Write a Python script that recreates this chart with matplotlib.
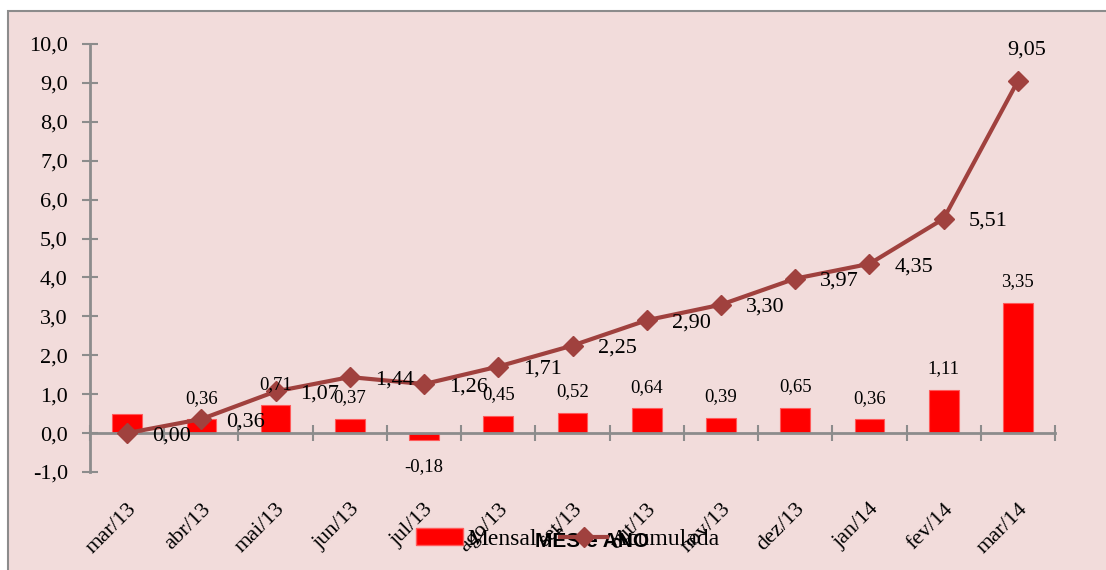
import numpy as np
import matplotlib.pyplot as plt
import matplotlib.patches as mpatches
from matplotlib.lines import Line2D

meses = ['mar/13', 'abr/13', 'mai/13', 'jun/13', 'jul/13', 'ago/13', 'set/13',
         'out/13', 'nov/13', 'dez/13', 'jan/14', 'fev/14', 'mar/14']
mensal = [0.48, 0.36, 0.71, 0.37, -0.18, 0.45, 0.52, 0.64, 0.39, 0.65, 0.36, 1.11, 3.35]
acumulada = [0.00, 0.36, 1.07, 1.44, 1.26, 1.71, 2.25, 2.90, 3.30, 3.97, 4.35, 5.51, 9.05]
mostra_rotulo = [False] + [True] * 12   # o primeiro mes nao tem rotulo

rosa = '#f2dcdb'
cinza = '#8c8c8c'
cor_linha = '#a0413e'
serif = 'Liberation Serif'

W, H = 1106, 570
fig = plt.figure(figsize=(W / 100, H / 100), dpi=100)
fig.patch.set_facecolor('white')
fundo = mpatches.Rectangle((8 / W, -0.1), 2, 1 - 11 / H + 0.1,
                           transform=fig.transFigure, facecolor=rosa,
                           edgecolor=cinza, linewidth=1.5, zorder=-10)
fig.patches.append(fundo)

ax = fig.add_axes([90 / W, 1 - 472 / H, 965 / W, 428 / H])
ax.set_facecolor('none')

# spine antes dos ticks (set_position reinicia os ticks)
for s in ['top', 'right']:
    ax.spines[s].set_visible(False)
ax.spines['bottom'].set_position(('data', 0))
ax.spines['left'].set_color(cinza)
ax.spines['bottom'].set_color(cinza)
ax.spines['left'].set_linewidth(2)
ax.spines['bottom'].set_linewidth(2)

x = np.arange(len(meses))
ax.bar(x, mensal, width=0.4, color='#ff0000', edgecolor='#ff5a5a', linewidth=0.8, zorder=2)
ax.plot(x, acumulada, color=cor_linha, linewidth=3, marker='D', markersize=10, zorder=3)

# rotulos das barras
for i, v in enumerate(mensal):
    if not mostra_rotulo[i]:
        continue
    txt = f'{v:.2f}'.replace('.', ',')
    dy = 15 if v >= 0 else -19
    ax.annotate(txt, (i, v), xytext=(0, dy), textcoords='offset points',
                ha='center', va='center', fontsize=13.5, family=serif)

# rotulos da linha
for i, v in enumerate(acumulada):
    txt = f'{v:.2f}'.replace('.', ',')
    if i == len(acumulada) - 1:
        off = (6, 22)
    else:
        off = (32, -2)
    ax.annotate(txt, (i, v), xytext=off, textcoords='offset points',
                ha='center', va='center', fontsize=16, family=serif)

ax.set_xlim(-0.5, len(meses) - 0.5)
ax.set_ylim(-1, 10)
ax.set_yticks(np.arange(-1, 11, 1))
ax.set_yticklabels([f'{t:.1f}'.replace('.', ',') for t in np.arange(-1, 11, 1)],
                   fontsize=16, family=serif)
ax.tick_params(axis='y', direction='inout', length=12, width=1.5, color=cinza, pad=10)

ax.set_xticks(np.arange(-0.5, len(meses)), labels=[])
ax.set_xticks(x, labels=meses, minor=True, rotation=45, ha='right',
              rotation_mode='anchor', fontsize=16, family=serif)
ax.tick_params(axis='x', which='major', direction='inout', length=12, width=1.5, color=cinza)
ax.tick_params(axis='x', which='minor', length=0, pad=48)

ax.set_xlabel('MÊS e ANO', fontsize=15, fontweight='bold', family='Liberation Sans')
ax.xaxis.set_label_coords((592 - 90) / 965, (472 - 532) / 428)

handles = [mpatches.Patch(facecolor='#ff0000', edgecolor='#ff5a5a'),
           Line2D([], [], color=cor_linha, linewidth=3, marker='D', markersize=10)]
fig.legend(handles, ['Mensal', 'Acumulada'], loc='center', ncol=2,
           bbox_to_anchor=(568 / W, 1 - 539 / H), frameon=False,
           prop={'family': serif, 'size': 17}, handlelength=2.0,
           handletextpad=0.15, columnspacing=1.0)

fig.savefig('out.png', dpi=100)
